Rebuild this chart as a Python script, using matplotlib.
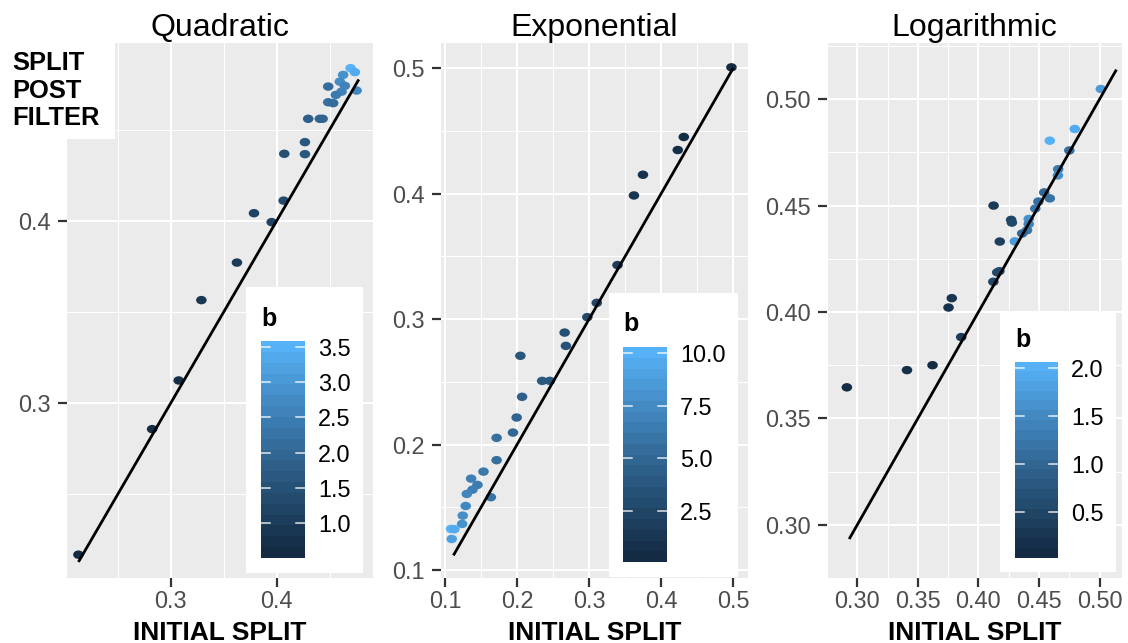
import numpy as np
import matplotlib
matplotlib.use("Agg")
import matplotlib.pyplot as plt
from matplotlib.colors import ListedColormap, Normalize
from matplotlib.path import Path
from matplotlib.patches import Rectangle

plt.rcParams["font.family"] = ["Liberation Sans", "DejaVu Sans"]

# ---- data -------------------------------------------------------------
quad_x = [0.4698, 0.4739, 0.4628, 0.4487, 0.4597, 0.4644, 0.4613, 0.4559, 0.4755,
          0.4487, 0.4534, 0.4298, 0.4408, 0.4434, 0.4267, 0.4072, 0.4267, 0.4066,
          0.3786, 0.3953, 0.3625, 0.3289, 0.3075, 0.2824, 0.2128]
quad_y = [0.4838, 0.4816, 0.4801, 0.4737, 0.4764, 0.4741, 0.4709, 0.4691, 0.4715,
          0.4651, 0.4646, 0.4560, 0.4560, 0.4560, 0.4432, 0.4368, 0.4366, 0.4111,
          0.4042, 0.3993, 0.3771, 0.3565, 0.3124, 0.2857, 0.2168]
quad_b = [3.58, 3.45, 2.9, 2.1, 2.8, 2.6, 2.6, 2.4, 2.7,
          2.2, 2.1, 1.8, 1.9, 1.9, 1.6, 1.4, 1.6, 1.3,
          1.1, 1.1, 0.9, 0.8, 0.65, 0.6, 0.51]

exp_x = [0.4975, 0.4314, 0.4230, 0.3747, 0.3622, 0.3394, 0.3106, 0.2975, 0.2660,
         0.2678, 0.2046, 0.2348, 0.2455, 0.2069, 0.1994, 0.1943, 0.1716, 0.1716,
         0.1534, 0.1362, 0.1450, 0.1381, 0.1302, 0.1636, 0.1287, 0.1246, 0.1237,
         0.1084, 0.1130, 0.1093]
exp_y = [0.5006, 0.4451, 0.4347, 0.4150, 0.3985, 0.3430, 0.3129, 0.3015, 0.2892,
         0.2786, 0.2707, 0.2507, 0.2507, 0.2380, 0.2215, 0.2095, 0.2053, 0.1875,
         0.1784, 0.1728, 0.1678, 0.1640, 0.1606, 0.1580, 0.1510, 0.1433, 0.1367,
         0.1327, 0.1325, 0.1247]
exp_b = [0.09, 0.3, 0.4, 0.7, 0.9, 1.5, 2.3, 2.6, 3.0,
         3.3, 3.6, 3.9, 3.7, 4.4, 4.8, 5.0, 5.6, 5.5,
         6.2, 6.8, 6.5, 6.7, 7.2, 5.9, 7.4, 7.8, 8.0,
         10.27, 9.8, 9.0]

log_x = [0.5010, 0.4795, 0.4589, 0.4750, 0.4658, 0.4656, 0.4543, 0.4589, 0.4495,
         0.4469, 0.4125, 0.4270, 0.4276, 0.4415, 0.4415, 0.4401, 0.4361, 0.4300,
         0.4176, 0.4173, 0.4155, 0.4123, 0.3753, 0.3780, 0.3858, 0.3621, 0.3410,
         0.2914]
log_y = [0.5048, 0.4860, 0.4805, 0.4759, 0.4671, 0.4642, 0.4562, 0.4534, 0.4519,
         0.4486, 0.4500, 0.4433, 0.4420, 0.4437, 0.4413, 0.4384, 0.4369, 0.4332,
         0.4331, 0.4192, 0.4186, 0.4142, 0.4021, 0.4065, 0.3882, 0.3750, 0.3727,
         0.3646]
log_b = [1.75, 1.95, 2.06, 1.1, 1.3, 1.6, 1.0, 1.15, 1.1,
         1.2, 0.3, 0.45, 0.5, 1.6, 1.4, 1.2, 1.0, 1.75,
         0.35, 0.6, 0.5, 0.45, 0.15, 0.2, 0.3, 0.05, 0.1,
         0.015]

# y = x reference segments
quad_line = [0.2128, 0.4776]
exp_line = [0.1116, 0.5]
log_line = [0.2933, 0.5139]

titles = ["Quadratic", "Exponential", "Logarithmic"]

W, H = 1128, 643


def srgb_to_lab(hexcol):
    rgb = np.array([int(hexcol[i:i + 2], 16) / 255 for i in (1, 3, 5)])
    lin = np.where(rgb <= 0.04045, rgb / 12.92, ((rgb + 0.055) / 1.055) ** 2.4)
    m = np.array([[0.4124, 0.3576, 0.1805],
                  [0.2126, 0.7152, 0.0722],
                  [0.0193, 0.1192, 0.9505]])
    xyz = m @ lin / np.array([0.95047, 1.0, 1.08883])
    f = np.where(xyz > 0.008856, np.cbrt(xyz), 7.787 * xyz + 16 / 116)
    return np.array([116 * f[1] - 16, 500 * (f[0] - f[1]), 200 * (f[1] - f[2])])


def lab_to_srgb(lab):
    fy = (lab[0] + 16) / 116
    fx = fy + lab[1] / 500
    fz = fy - lab[2] / 200
    f = np.array([fx, fy, fz])
    xyz = np.where(f ** 3 > 0.008856, f ** 3, (f - 16 / 116) / 7.787)
    xyz = xyz * np.array([0.95047, 1.0, 1.08883])
    m = np.array([[3.2406, -1.5372, -0.4986],
                  [-0.9689, 1.8758, 0.0415],
                  [0.0557, -0.2040, 1.0570]])
    lin = m @ xyz
    rgb = np.where(lin <= 0.0031308, 12.92 * lin, 1.055 * np.clip(lin, 0, None) ** (1 / 2.4) - 0.055)
    return np.clip(rgb, 0, 1)


# ggplot-like blue gradient, interpolated in Lab
lo, hi = srgb_to_lab("#132B43"), srgb_to_lab("#56B1F7")
cmap = ListedColormap([lab_to_srgb(lo + (hi - lo) * t) for t in np.linspace(0, 1, 256)])

# slightly wide ellipse used as point marker
circ = Path.unit_circle()
ellipse = Path(circ.vertices * np.array([1.25, 1.0]), circ.codes)


def fig_rect(x0, y0, x1, y1):
    return [x0 / W, 1 - y1 / H, (x1 - x0) / W, (y1 - y0) / H]


fig = plt.figure(figsize=(W / 100, H / 100), dpi=100)

panels = [
    dict(x=quad_x, y=quad_y, b=quad_b, line=quad_line, box=(67, 43, 373, 578),
         xlim=(0.202, 0.491), ylim=(0.204, 0.4976),
         xmaj=[0.3, 0.4], xmin=[0.25, 0.35, 0.45], ymaj=[0.3, 0.4], ymin=[0.25, 0.35, 0.45],
         fmt="{:.1f}", leg=(246, 287, 363, 573), bar=(261, 341, 305, 558), btitle=326,
         cticks=[1.0, 1.5, 2.0, 2.5, 3.0, 3.5]),
    dict(x=exp_x, y=exp_y, b=exp_b, line=exp_line, box=(441, 43, 748, 578),
         xlim=(0.0944, 0.5205), ylim=(0.0936, 0.520),
         xmaj=[0.1, 0.2, 0.3, 0.4, 0.5], xmin=[0.15, 0.25, 0.35, 0.45],
         ymaj=[0.1, 0.2, 0.3, 0.4, 0.5], ymin=[0.15, 0.25, 0.35, 0.45],
         fmt="{:.1f}", leg=(609, 293, 738, 577), bar=(623, 347, 667, 562), btitle=331,
         cticks=[2.5, 5.0, 7.5, 10.0]),
    dict(x=log_x, y=log_y, b=log_b, line=log_line, box=(827, 43, 1122, 578),
         xlim=(0.2823, 0.5185), ylim=(0.2824, 0.5264),
         xmaj=[0.30, 0.35, 0.40, 0.45, 0.50], xmin=[0.275, 0.325, 0.375, 0.425, 0.475],
         ymaj=[0.30, 0.35, 0.40, 0.45, 0.50], ymin=[0.275, 0.325, 0.375, 0.425, 0.475, 0.525],
         fmt="{:.2f}", leg=(1000, 313, 1116, 572), bar=(1015, 362, 1058, 558), btitle=347,
         cticks=[0.5, 1.0, 1.5, 2.0]),
]

for p, title in zip(panels, titles):
    x0, y0, x1, y1 = p["box"]
    ax = fig.add_axes(fig_rect(x0, y0, x1, y1))
    ax.set_facecolor("#EBEBEB")
    for s in ax.spines.values():
        s.set_visible(False)
    ax.set_xlim(*p["xlim"])
    ax.set_ylim(*p["ylim"])
    ax.set_xticks(p["xmaj"])
    ax.set_yticks(p["ymaj"])
    ax.set_xticks(p["xmin"], minor=True)
    ax.set_yticks(p["ymin"], minor=True)
    ax.set_xticklabels([p["fmt"].format(v) for v in p["xmaj"]])
    ax.set_yticklabels([p["fmt"].format(v) for v in p["ymaj"]])
    ax.tick_params(which="major", length=6.5, width=1.6, color="#333333",
                   labelsize=16.9, labelcolor="#4D4D4D")
    ax.tick_params(axis="x", which="major", pad=2.5)
    ax.tick_params(axis="y", which="major", pad=5)
    ax.tick_params(which="minor", length=0)
    ax.grid(which="major", color="white", lw=1.5)
    ax.grid(which="minor", color="white", lw=0.75)
    ax.set_axisbelow(True)

    norm = Normalize(min(p["b"]), max(p["b"]))
    ax.scatter(p["x"], p["y"], c=p["b"], cmap=cmap, norm=norm, marker=ellipse,
               s=58, linewidths=0, zorder=3)
    ax.plot(p["line"], p["line"], color="black", lw=2.0, zorder=4, solid_capstyle="butt")

    cx = (x0 + x1) / 2
    fig.text(cx / W, 1 - 36 / H, title, ha="center", va="baseline", fontsize=23)
    fig.text(cx / W, 1 - 640 / H, "INITIAL SPLIT", ha="center", va="baseline",
             fontsize=19, fontweight="bold")

    # colour bar legend
    lx0, ly0, lx1, ly1 = p["leg"]
    fig.add_artist(Rectangle((lx0 / W, 1 - ly1 / H), (lx1 - lx0) / W, (ly1 - ly0) / H,
                             transform=fig.transFigure, facecolor="white",
                             edgecolor="none", zorder=5))
    bx0, by0, bx1, by1 = p["bar"]
    cax = fig.add_axes(fig_rect(bx0, by0, bx1, by1), zorder=6)
    bmin, bmax = min(p["b"]), max(p["b"])
    bins = np.linspace(bmin, bmax, 20).reshape(-1, 1)
    cax.imshow(bins, cmap=cmap, norm=norm, origin="lower", aspect="auto",
               extent=[0, 1, bmin, bmax], interpolation="nearest")
    for t in p["cticks"]:
        cax.plot([0, 0.2], [t, t], color="white", lw=1.1, alpha=0.85)
        cax.plot([0.8, 1], [t, t], color="white", lw=1.1, alpha=0.85)
    cax.set_xlim(0, 1)
    cax.set_ylim(bmin, bmax)
    cax.set_xticks([])
    cax.yaxis.tick_right()
    cax.set_yticks(p["cticks"])
    cax.set_yticklabels(["{:.1f}".format(t) for t in p["cticks"]])
    cax.tick_params(axis="y", length=0, pad=9.5, labelsize=16.9, labelcolor="black")
    for s in cax.spines.values():
        s.set_visible(False)
    fig.text(bx0 / W, 1 - p["btitle"] / H, "b", ha="left", va="baseline",
             fontsize=18, fontweight="bold", zorder=7)

# y axis title sits in a white block at the top left
fig.add_artist(Rectangle((0, 1 - 139 / H), 115 / W, 139 / H, transform=fig.transFigure,
                         facecolor="white", edgecolor="none", zorder=5))
for word, base in zip(["SPLIT", "POST", "FILTER"], [70, 97.5, 125]):
    fig.text(12 / W, 1 - base / H, word, ha="left", va="baseline", fontsize=18.4,
             fontweight="bold", zorder=6)

fig.savefig("out.png", dpi=100)
